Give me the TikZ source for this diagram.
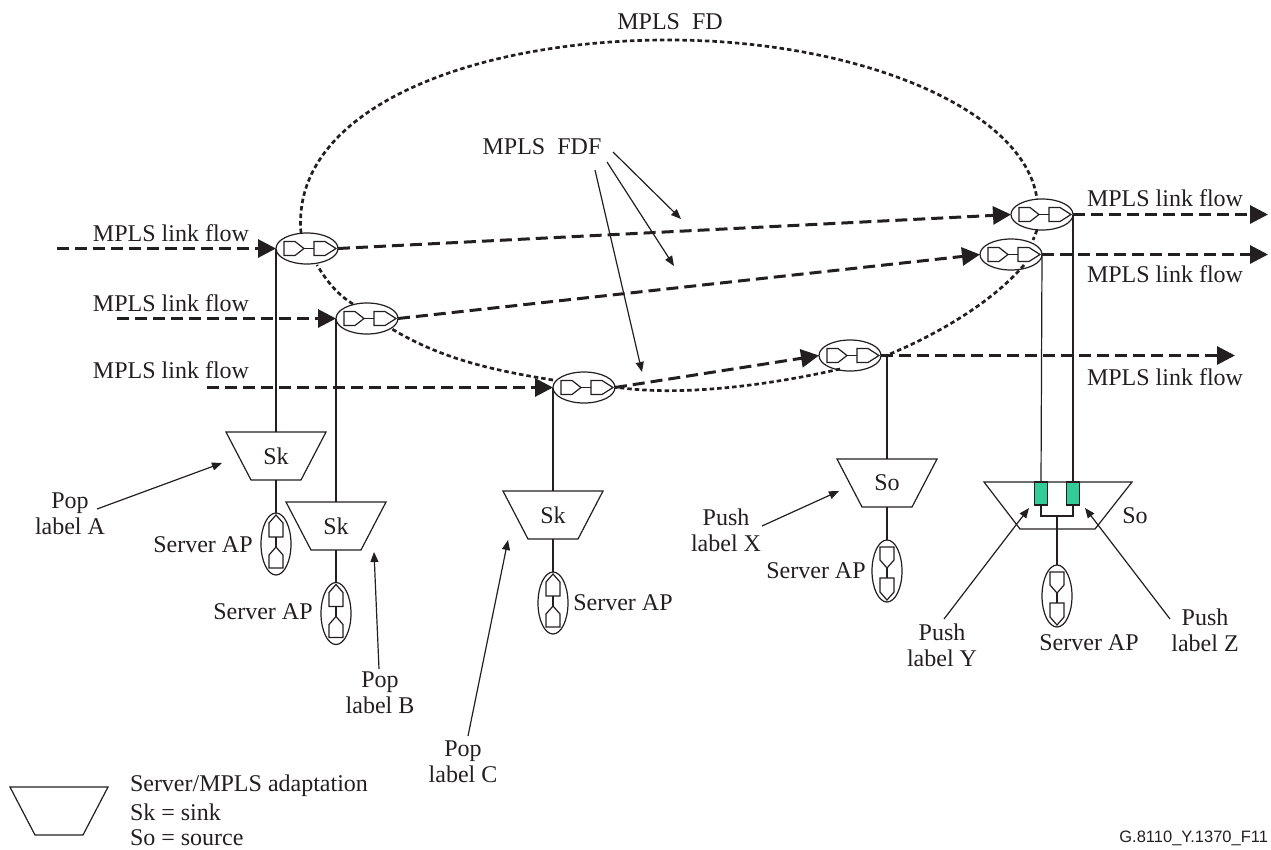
\documentclass[tikz,border=0pt]{standalone}
\usepackage{fontspec}
\setmainfont{Liberation Serif}
\setsansfont{Liberation Sans}
\usetikzlibrary{shapes.geometric,arrows.meta}
\definecolor{lk}{HTML}{231F20}
\definecolor{gr}{HTML}{33CC99}
\tikzset{
  x=1pt,y=-1pt,
  every node/.style={inner sep=0pt,outer sep=0pt,text=lk},
  lab/.style={font=\fontsize{24}{26}\selectfont,align=center},
  labl/.style={lab,align=left,anchor=west},
  thinl/.style={draw=lk,line width=1.2pt},
  sym/.style={draw=lk,line width=1.2pt,fill=white,line join=miter},
  oval/.style={draw=lk,line width=1.2pt,ellipse},
  fdfoval/.style={oval,minimum width=62pt,minimum height=31pt},
  apoval/.style={oval,minimum width=30pt,minimum height=62pt},
  trapbox/.style={minimum width=50pt,minimum height=48pt,font=\fontsize{24}{26}\selectfont},
  flow/.style={draw=lk,line width=3pt,dash pattern=on 12pt off 6pt,-{Triangle[length=18pt,width=18pt,fill=lk]}},
  fd/.style={draw=lk,line width=2.7pt,dash pattern=on 4.5pt off 3pt},
  callout/.style={draw=lk,line width=1.2pt,-{Triangle[length=10pt,width=8pt,fill=lk]}},
}
\newcommand{\fdfsym}[3]{%
  \node[fdfoval] (#1) at (#2,#3) {};
  \begin{scope}[shift={(#2,#3)}]
    \draw[sym] (-23,-7)--(-12,-7)--(-3,0)--(-12,7)--(-23,7)--cycle;
    \draw[sym] (7,-7)--(18,-7)--(29,0)--(18,7)--(7,7)--cycle;
    \draw[draw=lk,line width=1.6pt] (-3,0)--(7,0);
  \end{scope}}
\newcommand{\apsym}[4]{%
  \node[apoval] (#1) at (#2,#3) {};
  \begin{scope}[shift={(#2,#3)},yscale=#4]
    \draw[sym] (0,-29)--(7,-21)--(7,-7)--(-7,-7)--(-7,-21)--cycle;
    \draw[sym] (0,3)--(7,11)--(7,24)--(-7,24)--(-7,11)--cycle;
    \draw[draw=lk,line width=1.6pt] (0,-7)--(0,3);
  \end{scope}}
\newcommand{\trapsym}[6]{%
  \node[trapbox] (#1) at (#2,#3+24) {#4};
  \draw[draw=lk,line width=1.2pt] (#2-#5,#3)--(#2+#5,#3)--(#2+#6,#3+48)--(#2-#6,#3+48)--cycle;}
\begin{document}
\begin{tikzpicture}
\useasboundingbox (0,0) rectangle (1271,849);

\coordinate (f1) at (301,233);
\coordinate (ftop) at (668,40);
\coordinate (f2) at (1037,199);
\coordinate (f3) at (1037,230);
\coordinate (f3b) at (1033,240);
\coordinate (f4) at (1024,265);
\coordinate (f5) at (885,356);
\coordinate (f6) at (840,369);
\coordinate (f7) at (615,387);
\coordinate (f8) at (553,380);
\coordinate (f9) at (392,329);
\coordinate (f10) at (353,304);
\coordinate (f11) at (317,265);

\fdfsym{e1}{307}{248.5}
\fdfsym{e2}{367}{318.5}
\fdfsym{e3}{584}{387.5}
\fdfsym{e4}{850}{355.5}
\fdfsym{e5}{1011}{254.5}
\fdfsym{e6}{1042}{214.5}

\draw[fd] (f1) .. controls (290,110) and (470,40) .. (ftop) .. controls (860,40) and (1025,110) .. (f2);
\draw[fd] (f3) -- (f3b);
\draw[fd] (f4) .. controls (990,305) and (930,338) .. (f5);
\draw[fd] (f6) .. controls (770,385) and (680,397) .. (f7);
\draw[fd] (f8) .. controls (490,370) and (440,358) .. (f9);
\draw[fd] (f10) .. controls (335,293) and (325,278) .. (f11);

\coordinate (in1) at (57,248.5);
\coordinate (in2) at (117,318.5);
\coordinate (in3) at (207,387.5);
\coordinate (out1) at (1268,214.5);
\coordinate (out2) at (1268,254.5);
\coordinate (out3) at (1235,355.5);
\draw[flow] (in1) -- (e1.west);
\draw[flow] (in2) -- (e2.west);
\draw[flow] (in3) -- (e3.west);
\draw[flow] (e1.east) -- (e6.west);
\draw[flow] (e2.east) -- (e5.west);
\draw[flow] (e3.east) -- (e4.west);
\draw[flow] (e6.east) -- (out1);
\draw[flow] (e5.east) -- (out2);
\draw[flow] (e4.east) -- (out3);

\trapsym{t1}{276}{432}{Sk}{50}{25}
\trapsym{t2}{336}{502}{Sk}{50}{25}
\trapsym{t3}{553}{491}{Sk}{50}{25}
\trapsym{t4}{887}{459}{So}{50}{25}
\node[trapbox] (t5) at (1058,505.5) {};
\draw[draw=lk,line width=1.2pt] (984,482)--(1132,482)--(1095,529)--(1020,529)--cycle;
\node[lab] (so5) at (1135,516) {So};

\apsym{a1}{276}{544}{1}
\apsym{a2}{336}{613.5}{1}
\apsym{a3}{553}{603}{1}
\apsym{a4}{887}{571}{-1}
\apsym{a5}{1057}{596}{-1}

\coordinate (e4d) at (887,355.5);
\draw[thinl] (e1.west) -- (t1.north);
\draw[thinl] (t1.south) -- (a1.north);
\draw[thinl] (e2.west) -- (t2.north);
\draw[thinl] (t2.south) -- (a2.north);
\draw[thinl] (e3.west) -- (t3.north);
\draw[thinl] (t3.south) -- (a3.north);
\draw[thinl] (e4d) -- (t4.north);
\draw[thinl] (t4.south) -- (a4.north);

\node[draw=lk,fill=gr,line width=1.2pt,minimum width=13pt,minimum height=23pt] (g1) at (1041,493.5) {};
\node[draw=lk,fill=gr,line width=1.2pt,minimum width=13pt,minimum height=23pt] (g2) at (1073,493.5) {};
\coordinate (gj) at (1057,516);
\draw[thinl] (e5.east) -- (g1.north);
\draw[thinl] (e6.east) -- (g2.north);
\draw[thinl] (g1.south) |- (gj) -| (g2.south);
\draw[thinl] (gj) -- (a5.north);

\node[lab] (lfd) at (670,22) {MPLS\ \ FD};
\node[lab] (lfdf) at (542,147) {MPLS\ \ FDF};
\node[lab] (l1) at (171,233) {MPLS link flow};
\node[lab] (l2) at (171,303) {MPLS link flow};
\node[lab] (l3) at (171,370) {MPLS link flow};
\node[lab] (r1) at (1165,198) {MPLS link flow};
\node[lab] (r2) at (1165,274) {MPLS link flow};
\node[lab] (r3) at (1165,377) {MPLS link flow};
\node[lab] (pa) at (70,514) {Pop\\label A};
\node[lab] (pb) at (380,693) {Pop\\label B};
\node[lab] (pc) at (463,762) {Pop\\label C};
\node[lab] (px) at (726,530) {Push\\label X};
\node[lab] (py) at (942,645) {Push\\label Y};
\node[lab] (pz) at (1205,630) {Push\\label Z};
\node[lab] (s1) at (203,545) {Server AP};
\node[lab] (s2) at (263,612) {Server AP};
\node[lab] (s3) at (623,603) {Server AP};
\node[lab] (s4) at (816,571) {Server AP};
\node[lab] (s5) at (1089,643) {Server AP};

\coordinate (c1a) at (613,152);  \coordinate (c1b) at (681,219);
\coordinate (c2a) at (607,162);  \coordinate (c2b) at (674,266);
\coordinate (c3a) at (595,170);  \coordinate (c3b) at (642,372);
\coordinate (c4a) at (97,509);   \coordinate (c4b) at (222,463);
\coordinate (c5a) at (379,669);  \coordinate (c5b) at (374,552);
\coordinate (c6a) at (468,736);  \coordinate (c6b) at (508,540);
\coordinate (c7a) at (762,526);  \coordinate (c7b) at (839,491);
\coordinate (c8a) at (944,619);  \coordinate (c8b) at (1029,508);
\coordinate (c9a) at (1170,619); \coordinate (c9b) at (1085,508);
\foreach \i in {1,...,9}{\draw[callout] (c\i a) -- (c\i b);}

\node[trapbox] (leg) at (59,811) {};
\draw[draw=lk,line width=1.2pt] (10,787)--(108,787)--(83,835)--(35,835)--cycle;
\node[labl] (lg1) at (130,786) {Server/MPLS adaptation};
\node[labl] (lg2) at (130,812) {Sk = sink};
\node[labl] (lg3) at (130,838) {So = source};
\node[anchor=east,font=\sffamily\fontsize{16.5}{18}\selectfont] (fig) at (1268,838) {G.8110\_Y.1370\_F11};
\end{tikzpicture}
\end{document}
